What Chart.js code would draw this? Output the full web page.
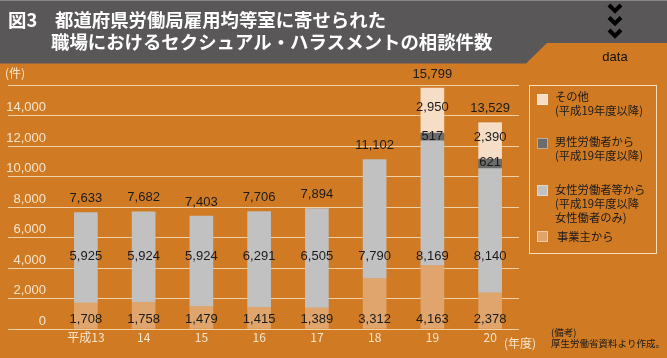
<!DOCTYPE html>
<html><head><meta charset="utf-8">
<script src="https://cdn.jsdelivr.net/npm/chart.js@4/dist/chart.umd.min.js"></script>
<style>html,body{margin:0;padding:0;background:#D07A24;overflow:hidden}#wrap{width:667px;height:358px;position:relative}</style>
</head><body><div id="wrap"><canvas id="c" width="667" height="358"></canvas></div>
<script>
// ---- data ----
const categories = ['平成13','14','15','16','17','18','19','20'];
const employerValues = [1708,1758,1479,1415,1389,3312,4163,2378];
const femaleValues = [5925,5924,5924,6291,6505,7790,8169,8140];
const maleValues = [null,null,null,null,null,null,517,621];
const otherValues = [null,null,null,null,null,null,2950,2390];
const totalValues = [7633,7682,7403,7706,7894,11102,15799,13529];
const yTickValues = [0,2000,4000,6000,8000,10000,12000,14000];
const seriesNames = ['事業主から','女性労働者等から','男性労働者から','その他'];
const titleLines = ['都道府県労働局雇用均等室に寄せられた','職場におけるセクシュアル・ハラスメントの相談件数'];
const figNo = '図3';

const BG = '#D07A24', CREAM = '#F8E6CC', GRID = '#F1D2A6', INK = '#1a1a1a';
const colors = ['#E0A56C','#C1C1C1','#6C6C6C','#F5DDC6'];
const NUM = '13px "Liberation Sans", Arial, sans-serif';
const JP = '"Noto Sans CJK JP", sans-serif';
const fmt = v => v.toLocaleString('en-US');

const decor = {
  id: 'decor',
  beforeDraw(chart) {
    const c = chart.ctx;
    c.save();
    c.fillStyle = BG; c.fillRect(0,0,chart.width,chart.height);
    // header band
    c.fillStyle = '#595758';
    c.beginPath(); c.moveTo(0,0); c.lineTo(667,0); c.lineTo(667,43); c.lineTo(547,43); c.lineTo(526,63.5); c.lineTo(0,63.5); c.closePath(); c.fill();
    c.fillStyle = '#8a8888'; c.fillRect(0,0,667,1);
    // chevrons
    c.strokeStyle = '#000'; c.lineWidth = 4; c.lineJoin = 'miter';
    [8.5,21,33.5].forEach(cy => { c.beginPath(); c.moveTo(609,cy-3.5); c.lineTo(615,cy+2.5); c.lineTo(621,cy-3.5); c.stroke(); });
    // title
    c.fillStyle = '#fff'; c.textBaseline = 'middle'; c.textAlign = 'left';
    c.font = 'bold 18.4px ' + JP;
    c.fillText(figNo, 8, 20);
    c.fillText(titleLines[0], 55, 20);
    c.fillText(titleLines[1], 51, 42);
    c.fillStyle = '#111'; c.font = '13px "Liberation Sans", Arial, sans-serif'; c.textAlign = 'center';
    c.fillText('data', 615, 57);
    c.restore();
  },
  afterDraw(chart) {
    const c = chart.ctx, y = chart.scales.y;
    c.save();
    c.textBaseline = 'middle';
    // y tick labels
    c.fillStyle = CREAM; c.font = NUM; c.textAlign = 'right';
    yTickValues.forEach(v => c.fillText(fmt(v), 46, y.getPixelForValue(v) - 8));
    c.textAlign = 'left'; c.font = '12px ' + JP;
    c.fillText('(件)', 5, 73);
    c.fillText('(年度)', 504, 343);
    // note
    c.fillStyle = INK; c.font = '9.5px ' + JP;
    c.fillText('(備考)', 551, 332);
    c.fillText('厚生労働省資料より作成。', 551, 343);
    // legend
    c.strokeStyle = '#F6DEBC'; c.lineWidth = 1;
    c.strokeRect(529.5, 85.5, 127, 168);
    const items = [
      {ci:3, sy:94, ty:97, lines:[seriesNames[3],'(平成19年度以降)'], tx:555},
      {ci:2, sy:138, ty:142, lines:[seriesNames[2],'(平成19年度以降)'], tx:555},
      {ci:1, sy:185, ty:190, lines:[seriesNames[1],'(平成19年度以降','女性働者のみ)'], tx:555},
      {ci:0, sy:231, ty:237, lines:[seriesNames[0]], tx:557}
    ];
    c.font = '11.3px ' + JP; c.fillStyle = INK;
    items.forEach(it => {
      c.fillStyle = colors[it.ci]; c.fillRect(537, it.sy, 11, 11);
      c.strokeStyle = 'rgba(255,240,220,0.5)'; c.strokeRect(537.5, it.sy+0.5, 10, 10);
      c.fillStyle = INK;
      it.lines.forEach((t,k) => c.fillText(t, it.tx, it.ty + k*14));
    });
    c.restore();
  },
  afterDatasetsDraw(chart) {
    const c = chart.ctx, y = chart.scales.y;
    const m = [0,1,2,3].map(i => chart.getDatasetMeta(i));
    c.save();
    c.fillStyle = INK; c.font = NUM; c.textAlign = 'center'; c.textBaseline = 'middle';
    categories.forEach((_, i) => {
      const x = m[0].data[i].x;
      c.fillText(fmt(employerValues[i]), x, y.getPixelForValue(0) - 10);
      c.fillText(fmt(femaleValues[i]), x, y.getPixelForValue(4750));
      if (maleValues[i] != null) { const b = m[2].data[i]; c.fillText(fmt(maleValues[i]), x, (b.y + b.base)/2 - 1); }
      if (otherValues[i] != null) { const b = m[3].data[i]; c.fillText(fmt(otherValues[i]), x, (b.y + b.base)/2 - 3); }
      let top = m[1].data[i].y;
      [2,3].forEach(k => { if (chart.data.datasets[k].data[i] != null) top = Math.min(top, m[k].data[i].y); });
      c.fillText(fmt(totalValues[i]), x, top - 14);
    });
    c.restore();
  }
};

new Chart(document.getElementById('c'), {
  type: 'bar',
  data: {
    labels: categories,
    datasets: [
      {label: seriesNames[0], data: employerValues, backgroundColor: colors[0]},
      {label: seriesNames[1], data: femaleValues, backgroundColor: colors[1]},
      {label: seriesNames[2], data: maleValues, backgroundColor: colors[2]},
      {label: seriesNames[3], data: otherValues, backgroundColor: colors[3]}
    ]
  },
  options: {
    responsive: false, animation: false, devicePixelRatio: 1,
    layout: {padding: {left: 8, top: 85, right: 148, bottom: 0}},
    datasets: {bar: {barThickness: 23, borderWidth: 0}},
    plugins: {legend: {display: false}, tooltip: {enabled: false}, title: {display: false}},
    scales: {
      x: {
        stacked: true,
        grid: {display: false, drawTicks: false}, border: {display: false},
        ticks: {color: CREAM, font: {family: JP, size: 12}, padding: 1, maxRotation: 0, autoSkip: false},
        afterFit: s => { s.height = 29; }
      },
      y: {
        stacked: true, min: 0, max: 16000,
        border: {display: false},
        grid: {color: GRID, lineWidth: 1, drawTicks: true, tickLength: 49, tickColor: GRID},
        ticks: {stepSize: 2000, display: false},
        afterFit: s => { s.width = 49; }
      }
    }
  },
  plugins: [decor]
});
</script>
</body></html>
